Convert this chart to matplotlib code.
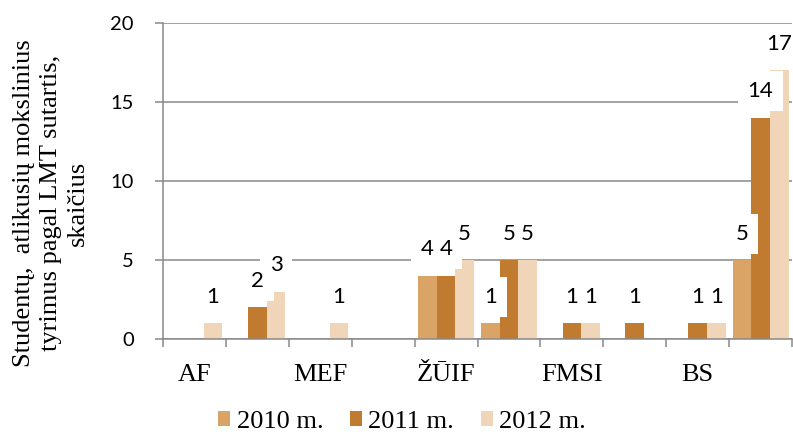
import numpy as np
import matplotlib
matplotlib.use("Agg")
import matplotlib.pyplot as plt
from matplotlib.ticker import FixedLocator, NullFormatter

# ---- data ----
categories = ["AF", "EVF", "MEF", "VŽF", "ŽŪIF", "VEI", "FMSI", "KSI", "BS", "Iš viso"]
tick_labels = ["AF", "", "MEF", "", "ŽŪIF", "", "FMSI", "", "BS", ""]
series_names = ["2010 m.", "2011 m.", "2012 m."]
v2010 = [0, 0, 0, 0, 4, 1, 0, 0, 0, 5]
v2011 = [0, 2, 0, 0, 4, 5, 1, 1, 1, 14]
v2012 = [1, 3, 1, 0, 5, 5, 1, 0, 1, 17]
y_ticks = [0, 5, 10, 15, 20]
y_label = "Studentų,  atlikusių mokslinius\ntyrimus pagal LMT sutartis,\nskaičius"

colors = ["#D9A465", "#C07B30", "#F0D5B9"]
grid_c = "#898989"
serif = ["Liberation Serif", "DejaVu Serif"]
sans = ["Lato", "DejaVu Sans"]

fig = plt.figure(figsize=(7.93, 4.36), dpi=100)
ax = fig.add_axes([163/793, 97/436, (792-163)/793, (339-23)/436])

x = np.arange(len(categories))
bw = 0.297
series = [v2010, v2011, v2012]
bars = []
for i, (vals, c, name) in enumerate(zip(series, colors, series_names)):
    b = ax.bar(x + (i - 1) * bw, vals, width=bw, color=c, label=name, zorder=2, linewidth=0)
    bars.append(b)

# data labels: white boxes first, then text on top
lab_fs = 16
for i, vals in enumerate(series):
    for xi, v in zip(x, vals):
        if v == 0:
            continue
        xp = xi + (i - 1) * bw
        ax.annotate(str(v), (xp, v), xytext=(0, 19), textcoords="offset points",
                    ha="center", va="center", fontsize=lab_fs, family=sans, color="none",
                    bbox=dict(boxstyle="square,pad=0.45", fc="white", ec="none"),
                    zorder=4, annotation_clip=False)
for i, vals in enumerate(series):
    for xi, v in zip(x, vals):
        if v == 0:
            continue
        xp = xi + (i - 1) * bw
        ax.annotate(str(v), (xp, v), xytext=(0, 19), textcoords="offset points",
                    ha="center", va="center", fontsize=lab_fs, family=sans, color="black",
                    zorder=6, annotation_clip=False)

ax.set_ylim(0, 20)
ax.set_xlim(-0.5, len(categories) - 0.5)
ax.set_yticks(y_ticks)
ax.set_yticklabels([str(t) for t in y_ticks], family=sans, fontsize=14.5)
ax.yaxis.grid(True, color=grid_c, linewidth=1.1, zorder=0)
ax.set_axisbelow(True)

# x ticks: marks at boundaries, labels at centers
ax.xaxis.set_major_locator(FixedLocator(np.arange(len(categories) + 1) - 0.5))
ax.xaxis.set_major_formatter(NullFormatter())
ax.xaxis.set_minor_locator(FixedLocator(x))
ax.set_xticklabels(tick_labels, minor=True, family=serif, fontsize=19)
ax.tick_params(axis="x", which="major", length=6, color=grid_c, width=1.1)
ax.tick_params(axis="x", which="minor", length=0, pad=18)
ax.tick_params(axis="y", length=6, color=grid_c, width=1.1, pad=15)

for s in ["top", "right"]:
    ax.spines[s].set_visible(False)
for s in ["left", "bottom"]:
    ax.spines[s].set_color(grid_c)
    ax.spines[s].set_linewidth(1.1)

fig.text(51/793, 1 - 203/436, y_label, rotation=90, ha="center", va="center",
         multialignment="center", family=serif, fontsize=19, linespacing=1.3)

fig.legend(handles=bars, labels=series_names, loc="center", bbox_to_anchor=(402/793, 14/436),
           ncol=3, frameon=False, prop=dict(family=serif, size=19),
           handlelength=0.46, handleheight=0.46, handletextpad=0.25, columnspacing=1.0,
           borderaxespad=0, borderpad=0)

fig.savefig("out.png", dpi=100)
